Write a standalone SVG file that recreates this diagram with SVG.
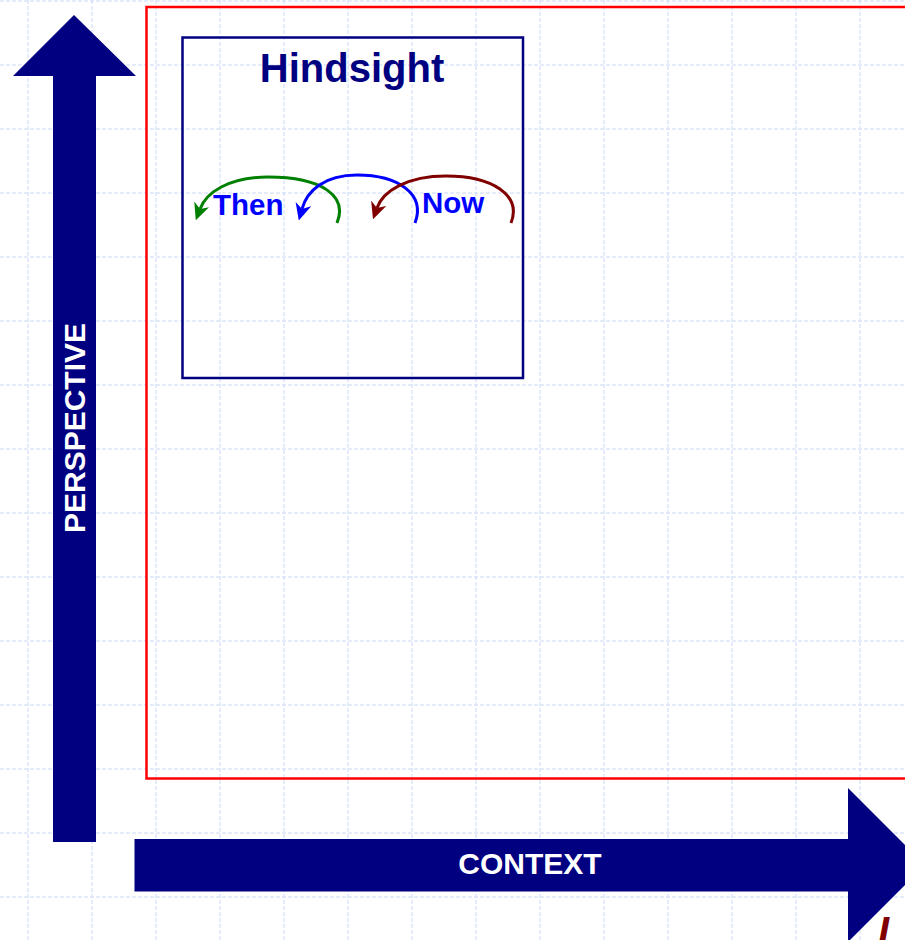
<svg xmlns="http://www.w3.org/2000/svg" width="905" height="940" viewBox="0 0 905 940">
<style>
.grid line{stroke:#cbd8f6;stroke-width:1;stroke-dasharray:4 2}
.big{fill:#000080}
.lbl{font-family:"Liberation Sans",Arial,sans-serif;font-weight:bold}
.arc{fill:none;stroke-width:3}
</style>
<defs>
<marker id="mg" viewBox="0 0 17 16" refX="5" refY="8" markerWidth="17" markerHeight="16" markerUnits="userSpaceOnUse" orient="auto"><path d="M0,0 L17,8 L0,16 L5,8 z" fill="#008000"/></marker>
<marker id="mb" viewBox="0 0 17 16" refX="5" refY="8" markerWidth="17" markerHeight="16" markerUnits="userSpaceOnUse" orient="auto"><path d="M0,0 L17,8 L0,16 L5,8 z" fill="#0000ff"/></marker>
<marker id="mr" viewBox="0 0 17 16" refX="5" refY="8" markerWidth="17" markerHeight="16" markerUnits="userSpaceOnUse" orient="auto"><path d="M0,0 L17,8 L0,16 L5,8 z" fill="#800000"/></marker>
</defs>
<rect width="905" height="940" fill="#ffffff"/>
<g class="grid">
<line x1="28" y1="0" x2="28" y2="940"/><line x1="92" y1="0" x2="92" y2="940"/><line x1="156" y1="0" x2="156" y2="940"/><line x1="220" y1="0" x2="220" y2="940"/><line x1="284" y1="0" x2="284" y2="940"/><line x1="348" y1="0" x2="348" y2="940"/><line x1="412" y1="0" x2="412" y2="940"/><line x1="476" y1="0" x2="476" y2="940"/><line x1="540" y1="0" x2="540" y2="940"/><line x1="604" y1="0" x2="604" y2="940"/><line x1="668" y1="0" x2="668" y2="940"/><line x1="732" y1="0" x2="732" y2="940"/><line x1="796" y1="0" x2="796" y2="940"/><line x1="860" y1="0" x2="860" y2="940"/>
<line x1="0" y1="1" x2="905" y2="1"/><line x1="0" y1="65" x2="905" y2="65"/><line x1="0" y1="129" x2="905" y2="129"/><line x1="0" y1="193" x2="905" y2="193"/><line x1="0" y1="257" x2="905" y2="257"/><line x1="0" y1="321" x2="905" y2="321"/><line x1="0" y1="385" x2="905" y2="385"/><line x1="0" y1="449" x2="905" y2="449"/><line x1="0" y1="513" x2="905" y2="513"/><line x1="0" y1="577" x2="905" y2="577"/><line x1="0" y1="641" x2="905" y2="641"/><line x1="0" y1="705" x2="905" y2="705"/><line x1="0" y1="769" x2="905" y2="769"/><line x1="0" y1="833" x2="905" y2="833"/><line x1="0" y1="897" x2="905" y2="897"/>
</g>
<g id="frame"><rect x="146.5" y="7" width="800" height="771.5" fill="none" stroke="#ff0000" stroke-width="2.5"/></g>
<g id="perspective-axis">
<polygon class="big" points="74,15 136,76 96,76 96,842 53,842 53,76 13,76"/>
<text class="lbl" x="0" y="0" font-size="30" fill="#ffffff" text-anchor="middle" transform="translate(84.5,428) rotate(-90)">PERSPECTIVE</text>
</g>
<g id="context-axis">
<polygon class="big" points="134.5,839 848,839 848,788 925,865 848,942 848,891.5 134.5,891.5"/>
<text class="lbl" x="530" y="874" font-size="30" fill="#ffffff" text-anchor="middle">CONTEXT</text>
</g>
<g id="hindsight">
<rect x="182.5" y="37.5" width="340.5" height="340.5" fill="none" stroke="#000080" stroke-width="2.5"/>
<text class="lbl" x="352" y="82" font-size="40" fill="#000080" text-anchor="middle">Hindsight</text>
<text class="lbl" x="213" y="215" font-size="29.5" fill="#0000ff">Then</text>
<text class="lbl" x="422" y="213" font-size="29.5" fill="#0000ff">Now</text>
</g>
<g id="connectors">
<path class="arc" stroke="#008000" marker-end="url(#mg)" d="M337,223 C348,196 322,177 268,177 C228,177 206,193 200,209"/>
<path class="arc" stroke="#0000ff" marker-end="url(#mb)" d="M415,223 C426,194 398,175 357,175 C324,175 307,191 302,209"/>
<path class="arc" stroke="#800000" marker-end="url(#mr)" d="M511,223 C522,195 492,176 446,176 C407,176 383,191 377,208"/>
</g>
<text class="lbl" x="878" y="945" font-size="40" font-style="italic" fill="#800000">I</text>
</svg>
